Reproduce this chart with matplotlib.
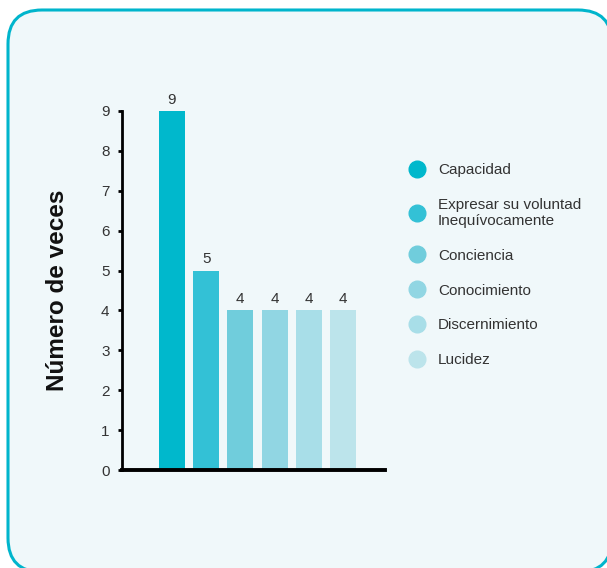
import matplotlib
matplotlib.use("Agg")
import matplotlib.pyplot as plt
from matplotlib.patches import FancyBboxPatch
from matplotlib.lines import Line2D
from matplotlib.transforms import IdentityTransform

# datos
categorias = ["Capacidad", "Expresar su voluntad\nInequívocamente", "Conciencia",
              "Conocimiento", "Discernimiento", "Lucidez"]
valores = [9, 5, 4, 4, 4, 4]
colores = ["#00b8cc", "#33c1d6", "#70cddc", "#91d6e3", "#a8dee8", "#bce4eb"]
ticks_y = [0, 1, 2, 3, 4, 5, 6, 7, 8, 9]

plt.rcParams['font.family'] = ['Liberation Sans', 'DejaVu Sans']

fig = plt.figure(figsize=(6.07, 5.68), dpi=100)
fig.patch.set_facecolor("white")

# recuadro redondeado de fondo (en pixeles)
caja = FancyBboxPatch((8, -4), 604, 562, boxstyle="round,pad=0,rounding_size=34",
                      transform=IdentityTransform(), facecolor="#f0f8fa",
                      edgecolor="#00b5cc", linewidth=2.2, zorder=-1)
fig.add_artist(caja)

ax = fig.add_axes([122/607, 1-470/568, 263/607, 359/568])
ax.set_facecolor("none")

x = list(range(len(valores)))
barras = ax.bar(x, valores, width=0.76, color=colores)
for xi, v in zip(x, valores):
    ax.annotate(str(v), (xi, v), xytext=(0, 3), textcoords="offset points",
                ha="center", va="bottom", fontsize=11, color="#333333")

ax.set_xlim(-1.46, 6.23)
ax.set_ylim(0, 9)
ax.set_yticks(ticks_y)
ax.set_xticks([])
ax.tick_params(axis="y", length=3, width=2, pad=6, labelsize=11, labelcolor="#333333")
for s in ["top", "right"]:
    ax.spines[s].set_visible(False)
ax.spines["left"].set_linewidth(2)
ax.spines["bottom"].set_linewidth(2.8)

ax.set_ylabel("Número de veces", fontsize=17.5, fontweight="bold", color="#111111")
ax.yaxis.set_label_coords(-0.2, 0.5)

handles = [Line2D([], [], marker="o", linestyle="none", markersize=12,
                  markerfacecolor=c, markeredgecolor=c) for c in colores]
fig.legend(handles, categorias, loc="upper left", bbox_to_anchor=(409/607, 1-163/568),
           frameon=False, fontsize=11, labelspacing=1.36, handlelength=1.0,
           handletextpad=0.9, borderpad=0, borderaxespad=0, labelcolor="#333333")

fig.savefig("out.png", dpi=100)
